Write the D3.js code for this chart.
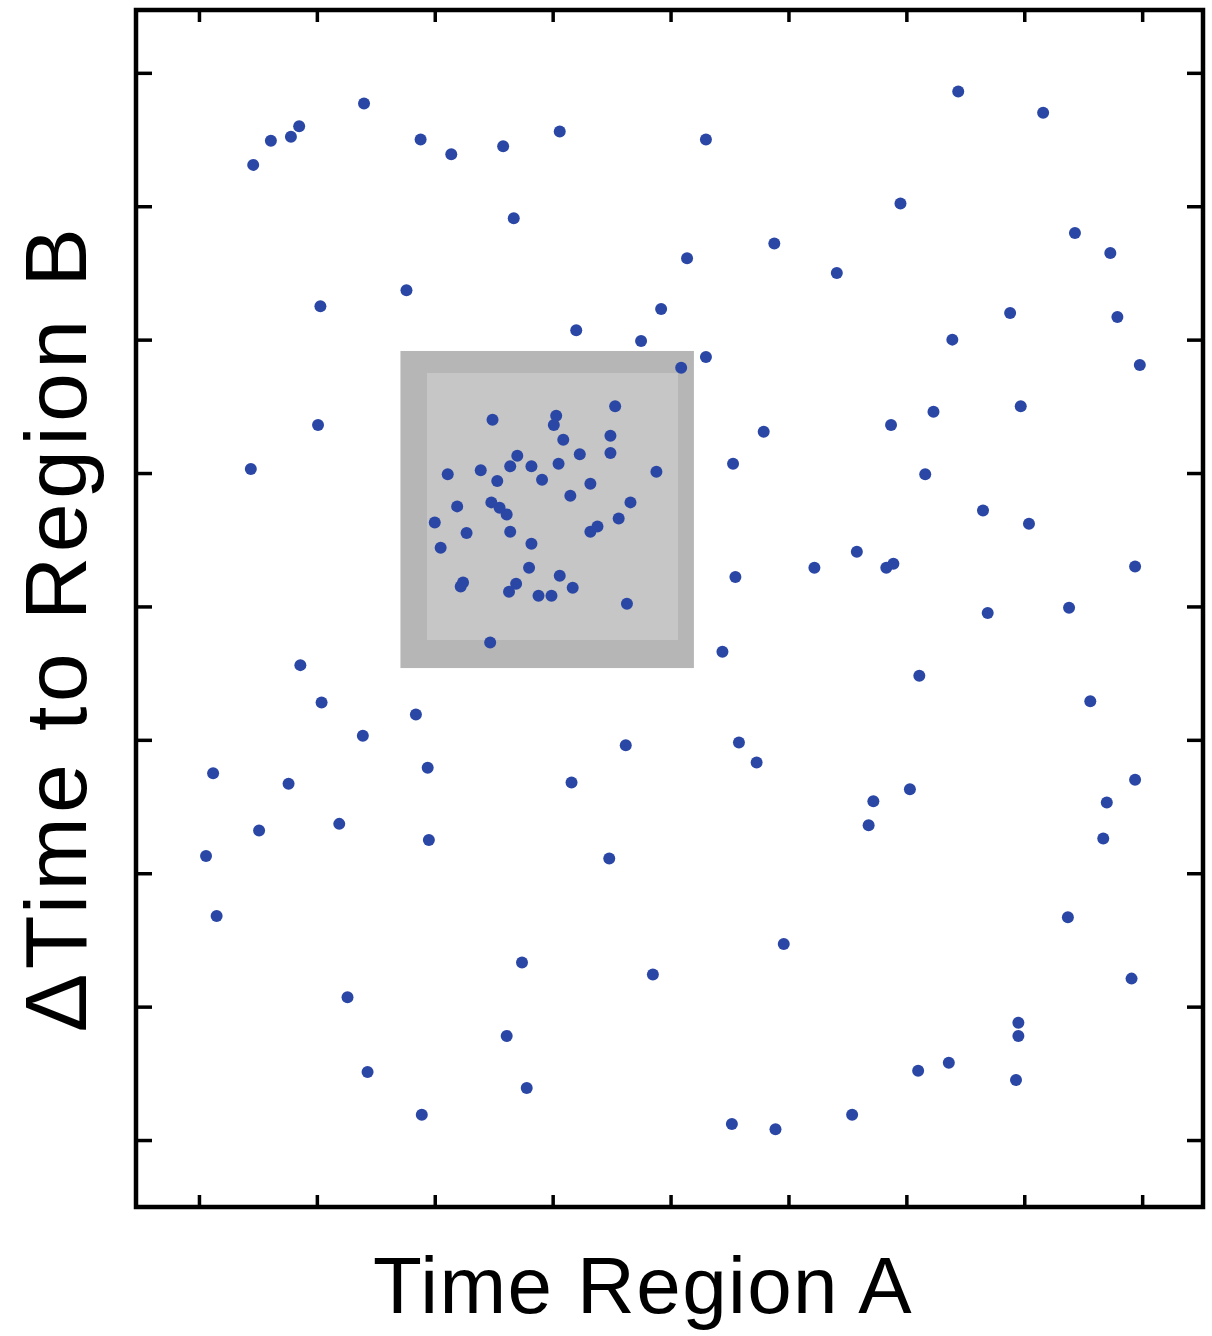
<!DOCTYPE html>
<html>
<head>
<meta charset="utf-8">
<script src="https://cdn.jsdelivr.net/npm/d3@7"></script>
<style>
  html, body { margin: 0; padding: 0; background: #ffffff; }
  svg { display: block; }
</style>
</head>
<body>
<svg id="chart" width="1212" height="1336"></svg>
<script>
// ---- data (axis units: tick positions 0..8, no tick labels shown) ----
const xTickValues = [0, 1, 2, 3, 4, 5, 6, 7, 8];
const yTickValues = [0, 1, 2, 3, 4, 5, 6, 7, 8];

// scattered points outside the highlighted region
const outsideX = [0.46,0.61,0.78,0.85,1.40,1.88,2.14,2.58,3.06,4.30,6.44,7.16,
  2.67,5.95,4.88,4.14,7.43,7.73,5.41,1.76,1.03,3.92,3.20,6.88,7.79,3.75,6.39,4.30,4.09,7.98,
  1.01,4.79,5.87,6.23,6.97,0.44,4.53,6.16,6.65,7.04,5.58,5.83,5.89,5.22,4.55,7.94,6.69,7.38,
  4.44,0.86,1.04,1.84,6.11,7.56,1.39,3.62,4.58,4.73,0.12,1.94,0.76,3.16,6.03,5.72,7.70,7.94,
  1.19,0.51,5.68,7.67,1.95,0.06,3.48,0.15,7.37,4.96,2.74,3.85,7.91,1.26,2.61,6.95,6.95,
  1.43,2.78,6.36,6.10,6.93,1.89,4.52,4.89,5.54];
const outsideY = [7.31,7.49,7.52,7.60,7.77,7.50,7.39,7.45,7.56,7.50,7.86,7.70,
  6.91,7.02,6.72,6.61,6.80,6.65,6.50,6.37,6.25,6.23,6.07,6.20,6.17,5.99,6.00,5.87,5.79,5.81,
  5.36,5.31,5.36,5.46,5.50,5.03,5.07,4.99,4.72,4.62,4.41,4.29,4.32,4.29,4.22,4.30,3.95,3.99,
  3.66,3.56,3.28,3.19,3.48,3.29,3.03,2.96,2.98,2.83,2.75,2.79,2.67,2.68,2.63,2.54,2.53,2.70,
  2.37,2.32,2.36,2.26,2.25,2.13,2.11,1.68,1.67,1.47,1.33,1.24,1.21,1.07,0.78,0.88,0.78,
  0.51,0.39,0.58,0.52,0.45,0.19,0.12,0.08,0.19];

// clustered points inside the highlighted region
const clusterX = [2.49,3.03,3.01,3.53,3.49,3.49,3.09,3.23,2.70,2.64,2.82,2.91,3.05,2.39,2.11,
  2.53,3.88,3.32,3.15,2.19,2.48,2.55,2.61,3.66,3.56,3.32,3.38,2.00,2.27,2.64,2.05,2.82,2.80,
  3.06,2.24,2.22,2.69,2.63,2.88,2.99,3.17,3.63,2.47];
const clusterY = [5.40,5.43,5.36,5.50,5.28,5.15,5.25,5.14,5.13,5.05,5.05,4.95,5.07,5.02,4.99,
  4.94,5.01,4.92,4.83,4.75,4.78,4.74,4.69,4.78,4.66,4.56,4.60,4.63,4.55,4.56,4.44,4.47,4.29,
  4.23,4.18,4.15,4.17,4.11,4.08,4.08,4.14,4.02,3.73];

// highlighted region (outer band and inner area)
const regionOuterX = [1.709, 4.198];
const regionOuterY = [3.538, 5.915];
const regionInnerX = [1.934, 4.063];
const regionInnerY = [3.748, 5.750];

const xLabel = "Time Region A";
const yLabel = "\u0394Time to Region B";

// ---- layout ----
const plotL = 136, plotR = 1203, plotT = 10, plotB = 1207;
const x = d3.scaleLinear().domain([-0.534, 8.516]).range([plotL, plotR]);
const y = d3.scaleLinear().domain([-0.502, 8.471]).range([plotB, plotT]);

const svg = d3.select("#chart");

// region rectangles
svg.append("rect")
  .attr("x", x(regionOuterX[0])).attr("y", y(regionOuterY[1]))
  .attr("width", x(regionOuterX[1]) - x(regionOuterX[0]))
  .attr("height", y(regionOuterY[0]) - y(regionOuterY[1]))
  .attr("fill", "#b6b6b6");
svg.append("rect")
  .attr("x", x(regionInnerX[0])).attr("y", y(regionInnerY[1]))
  .attr("width", x(regionInnerX[1]) - x(regionInnerX[0]))
  .attr("height", y(regionInnerY[0]) - y(regionInnerY[1]))
  .attr("fill", "#c6c6c6");

// points
const pts = outsideX.map((v, i) => [v, outsideY[i]])
  .concat(clusterX.map((v, i) => [v, clusterY[i]]));
svg.append("g").selectAll("circle").data(pts).join("circle")
  .attr("cx", d => x(d[0])).attr("cy", d => y(d[1]))
  .attr("r", 6)
  .attr("fill", "#2b47a6");

// axes: inward ticks on all four sides, no labels
function styleAxis(g) {
  g.select(".domain").remove();
  g.selectAll(".tick line").attr("stroke", "#000").attr("stroke-width", 3.5);
  g.selectAll(".tick text").remove();
}
svg.append("g").attr("transform", `translate(0,${plotB})`)
  .call(d3.axisBottom(x).tickValues(xTickValues).tickSize(-12).tickFormat(""))
  .call(styleAxis);
svg.append("g").attr("transform", `translate(0,${plotT})`)
  .call(d3.axisTop(x).tickValues(xTickValues).tickSize(-12).tickFormat(""))
  .call(styleAxis);
svg.append("g").attr("transform", `translate(${plotL},0)`)
  .call(d3.axisLeft(y).tickValues(yTickValues).tickSize(-16).tickFormat(""))
  .call(styleAxis);
svg.append("g").attr("transform", `translate(${plotR},0)`)
  .call(d3.axisRight(y).tickValues(yTickValues).tickSize(-16).tickFormat(""))
  .call(styleAxis);

// frame
svg.append("rect")
  .attr("x", plotL).attr("y", plotT)
  .attr("width", plotR - plotL).attr("height", plotB - plotT)
  .attr("fill", "none").attr("stroke", "#000").attr("stroke-width", 4.5);

// axis titles
svg.append("text")
  .attr("x", 643).attr("y", 1313)
  .attr("text-anchor", "middle")
  .attr("font-family", "'Liberation Sans', Arial, sans-serif")
  .attr("font-size", 80)
  .attr("letter-spacing", "1.4px")
  .attr("fill", "#000")
  .text(xLabel);
svg.append("text")
  .attr("transform", "translate(86,628) rotate(-90)")
  .attr("text-anchor", "middle")
  .attr("font-family", "'Liberation Sans', Arial, sans-serif")
  .attr("font-size", 88)
  .attr("letter-spacing", "4.3px")
  .attr("fill", "#000")
  .text(yLabel);
</script>
</body>
</html>
